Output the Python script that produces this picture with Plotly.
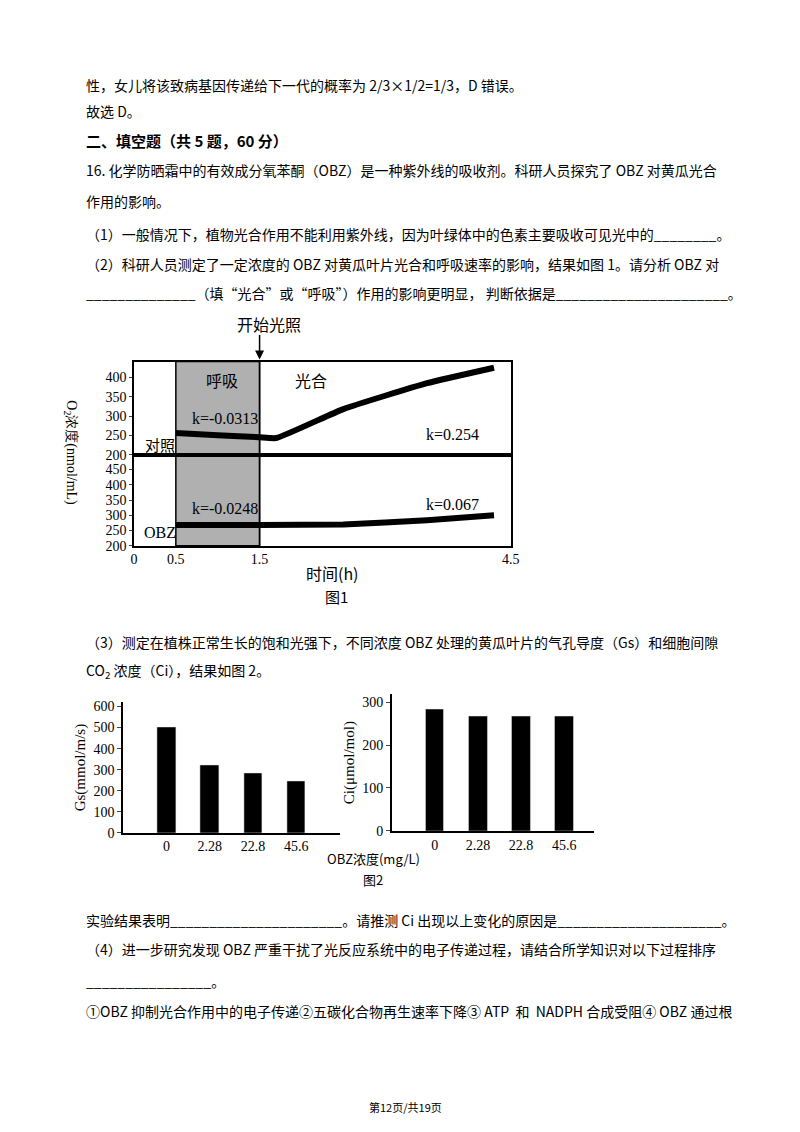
import plotly.graph_objects as go

W, H = 800, 1132

# figure 1 data
t_ctrl = [0.5, 1.0, 1.5, 1.7, 2.5, 3.5, 4.3]
o2_ctrl = [256, 250, 245, 243, 318, 385, 425]
t_obz = [0.5, 1.5, 2.5, 3.5, 4.3]
o2_obz = [268, 268, 270, 284, 300]

# figure 2 data
obz_conc = ["0", "2.28", "22.8", "45.6"]
gs_vals = [500, 320, 285, 245]
ci_vals = [283, 267, 267, 267]

SERIF = "Liberation Serif"
CJK = "Noto Sans CJK SC"
BLACK = "#000000"


def px(x):
    return x / W


def py(y):
    return 1 - y / H


fig = go.Figure()

# figure 1 traces
fig.add_trace(go.Scatter(x=t_ctrl, y=o2_ctrl, mode="lines", line=dict(color=BLACK, width=6, shape="spline", smoothing=0.4),
                         xaxis="x", yaxis="y", showlegend=False))
fig.add_trace(go.Scatter(x=t_obz, y=o2_obz, mode="lines", line=dict(color=BLACK, width=6, shape="spline", smoothing=0.4),
                         xaxis="x2", yaxis="y2", showlegend=False))

# figure 2 bars
pos = list(range(1, len(obz_conc) + 1))
fig.add_trace(go.Bar(x=pos, y=gs_vals, width=0.43, marker_color=BLACK, xaxis="x3", yaxis="y3", showlegend=False))
fig.add_trace(go.Bar(x=pos, y=ci_vals, width=0.43, marker_color=BLACK, xaxis="x4", yaxis="y4", showlegend=False))

tickf = dict(family=SERIF, size=14, color=BLACK)
tickf2 = dict(family=SERIF, size=14, color=BLACK)
f1x = [px(124), px(507)]
xr = [0, 4.5]
box = dict(showline=True, linecolor=BLACK, linewidth=1.5, mirror=True, showgrid=False, zeroline=False, tickfont=tickf)
ax2 = dict(showline=True, linecolor=BLACK, linewidth=1.5, showgrid=False, zeroline=False)

fig.update_layout(
    width=W, height=H, margin=dict(l=0, r=0, t=0, b=0),
    paper_bgcolor="white", plot_bgcolor="rgba(0,0,0,0)",
    font=dict(color=BLACK),
    xaxis=dict(domain=f1x, range=xr, anchor="y", showticklabels=False, ticks="", **{k: v for k, v in box.items() if k != "tickfont"}),
    yaxis=dict(domain=[py(448), py(354)], range=[200, 441], anchor="x", tickvals=[200, 250, 300, 350, 400],
               ticks="outside", ticklen=3, **box),
    xaxis2=dict(domain=f1x, range=xr, anchor="y2", tickvals=[0, 0.5, 1.5, 4.5], ticktext=["0", "0.5", "1.5", "4.5"], ticks="", **box),
    yaxis2=dict(domain=[py(540), py(448)], range=[200, 499], anchor="x2", tickvals=[200, 250, 300, 350, 400, 450],
                ticks="outside", ticklen=3, **box),
    xaxis3=dict(domain=[px(113), px(333)], range=[0, 5], anchor="y3", tickvals=pos, ticktext=obz_conc, tickfont=tickf2, **ax2),
    yaxis3=dict(domain=[py(830), py(698)], range=[0, 620], anchor="x3", dtick=100, ticks="outside", ticklen=4, tickfont=tickf2,
                title=dict(text="Gs(mmol/m/s)", font=dict(family=SERIF, size=15, color=BLACK), standoff=4), **ax2),
    xaxis4=dict(domain=[px(386), px(592)], range=[0, 4.7], anchor="y4", tickvals=pos, ticktext=obz_conc, tickfont=tickf2, **ax2),
    yaxis4=dict(domain=[py(828), py(690)], range=[0, 318], anchor="x4", dtick=100, ticks="outside", ticklen=4, tickfont=tickf2,
                title=dict(text="Ci(μmol/mol)", font=dict(family=SERIF, size=15, color=BLACK), standoff=4), **ax2),
    bargap=0,
)

# grey respiration band and light-on line
fig.add_shape(type="rect", xref="x", yref="paper", x0=0.5, x1=1.5, y0=py(540), y1=py(354),
              fillcolor="#b0b0b0", line=dict(color=BLACK, width=1.5), layer="below")
fig.add_shape(type="line", xref="x", yref="paper", x0=1.5, x1=1.5, y0=py(540), y1=py(354), line=dict(color=BLACK, width=1.5))
fig.add_annotation(x=1.5, xref="x", y=py(352), yref="paper", ax=0, ay=-26, showarrow=True,
                   arrowhead=2, arrowsize=1.2, arrowwidth=1.5, arrowcolor=BLACK, text="")

# figure 1 labels
lab = [
    ("开始光照", 261, 316, CJK, 16),
    ("呼吸", 213, 373, CJK, 16),
    ("光合", 304, 373, CJK, 16),
    ("k=-0.0313", 217, 411, SERIF, 16),
    ("k=0.254", 448, 428, SERIF, 16),
    ("k=-0.0248", 217, 502, SERIF, 16),
    ("k=0.067", 448, 498, SERIF, 16),
    ("对照", 150, 438, CJK, 15),
    ("OBZ", 150, 527, SERIF, 16),
    ("时间(h)", 326, 568, CJK, 16),
    ("图1", 330, 591, CJK, 15),
    ("OBZ浓度(mg/L)", 367, 856, CJK, 13),
    ("图2", 367, 877, CJK, 13),
    ("第12页/共19页", 400, 1107, CJK, 11),
]
for text, x, y, fam, sz in lab:
    fig.add_annotation(x=px(x), y=py(y), xref="paper", yref="paper", text=text, showarrow=False,
                       font=dict(family=fam, size=sz, color=BLACK), xanchor="center", yanchor="middle")
fig.add_annotation(x=px(70), y=py(446), xref="paper", yref="paper", text="O<sub>2</sub>浓度(nmol/mL)", textangle=90,
                   showarrow=False, xanchor="right", font=dict(family=SERIF, size=14, color=BLACK))

# body text
body = [
    ("性，女儿将该致病基因传递给下一代的概率为 2/3×1/2=1/3，D 错误。", 73, 75),
    ("故选 D。", 73, 101),
    ("<b>二、填空题（共 5 题，60 分）</b>", 73, 131),
    ("16. 化学防晒霜中的有效成分氧苯酮（OBZ）是一种紫外线的吸收剂。科研人员探究了 OBZ 对黄瓜光合", 73, 161),
    ("作用的影响。", 73, 192),
    ("（1）一般情况下，植物光合作用不能利用紫外线，因为叶绿体中的色素主要吸收可见光中的________。", 73, 225),
    ("（2）科研人员测定了一定浓度的 OBZ 对黄瓜叶片光合和呼吸速率的影响，结果如图 1。请分析 OBZ 对", 73, 255),
    ("______________（填“光合”或“呼吸”）作用的影响更明显， 判断依据是______________________。", 73, 285),
    ("（3）测定在植株正常生长的饱和光强下，不同浓度 OBZ 处理的黄瓜叶片的气孔导度（Gs）和细胞间隙", 73, 637),
    ("CO<sub>2</sub> 浓度（Ci），结果如图 2。", 73, 666),
    ("实验结果表明______________________。请推测 Ci 出现以上变化的原因是_____________________。", 73, 918),
    ("（4）进一步研究发现 OBZ 严重干扰了光反应系统中的电子传递过程，请结合所学知识对以下过程排序", 73, 947),
    ("________________。", 73, 980),
    ("①OBZ 抑制光合作用中的电子传递②五碳化合物再生速率下降③ ATP  和  NADPH 合成受阻④ OBZ 通过根", 73, 1010),
]
for text, x, y in body:
    fig.add_annotation(x=px(x), y=py(y), xref="paper", yref="paper", text=text, showarrow=False,
                       font=dict(family=CJK, size=14 if "<b>" not in text else 15, color=BLACK),
                       xanchor="left", yanchor="middle")

fig.write_html("out.html")
